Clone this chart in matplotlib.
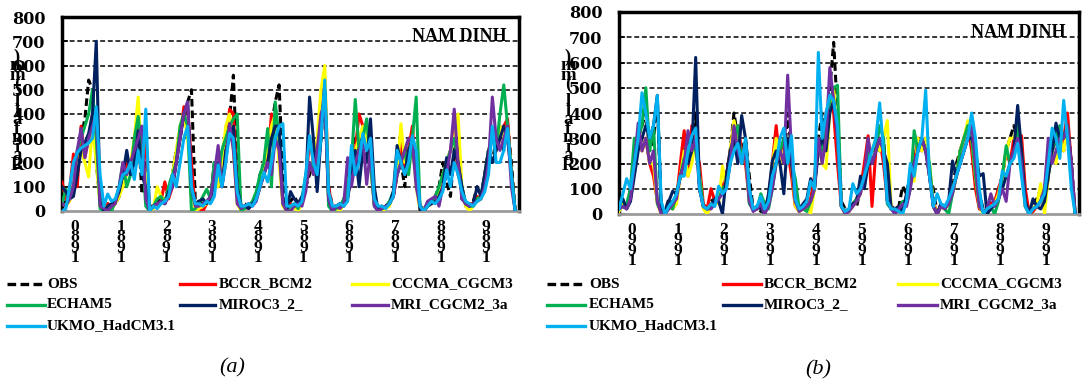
import numpy as np
import matplotlib.pyplot as plt
from matplotlib.lines import Line2D

series_names = ['OBS', 'BCCR_BCM2', 'CCCMA_CGCM3', 'ECHAM5',
                'MIROC3_2_', 'MRI_CGCM2_3a', 'UKMO_HadCM3.1']
series_colors = ['black', '#FF0000', '#FFFF00', '#00B050',
                 '#002060', '#7030A0', '#00B0F0']
years_a = ['1980', '1981', '1982', '1983', '1984',
           '1985', '1986', '1987', '1988', '1989']
years_b = ['1990', '1991', '1992', '1993', '1994',
           '1995', '1996', '1997', '1998', '1999']
station = 'NAM DINH'
y_label = 'Rainfall (mm)'

# monthly rainfall, 1980-1989 (one row per year)
obs_a = [
    90, 30, 50, 80, 150, 300, 380, 540, 500, 200, 40, 10,
    30, 20, 30, 60, 130, 220, 180, 250, 340, 70, 200, 20,
    20, 30, 60, 40, 100, 150, 250, 300, 380, 450, 500, 40,
    40, 30, 40, 50, 200, 100, 250, 300, 380, 560, 150, 20,
    30, 20, 30, 60, 150, 200, 250, 350, 450, 520, 150, 20,
    40, 60, 30, 50, 100, 150, 200, 150, 300, 500, 100, 20,
    20, 30, 40, 150, 200, 300, 250, 350, 200, 300, 40, 10,
    20, 10, 30, 60, 150, 200, 100, 300, 250, 150, 20, 10,
    30, 40, 60, 100, 200, 120, 60, 250, 300, 50, 30, 20,
    40, 100, 60, 150, 250, 200, 300, 350, 250, 360, 200, 0]
bccr_a = [
    120, 50, 90, 235, 100, 350, 220, 300, 400, 300, 30, 0,
    30, 10, 40, 80, 150, 200, 150, 300, 400, 150, 300, 10,
    20, 30, 40, 120, 50, 100, 200, 300, 430, 420, 200, 0,
    10, 0, 30, 50, 150, 200, 100, 250, 420, 400, 100, 0,
    20, 10, 30, 50, 100, 150, 200, 400, 350, 300, 30, 0,
    30, 20, 10, 40, 100, 300, 200, 150, 350, 550, 100, 10,
    20, 10, 40, 60, 150, 250, 400, 350, 300, 200, 30, 10,
    10, 20, 30, 60, 150, 300, 150, 250, 350, 150, 20, 0,
    20, 30, 50, 80, 150, 200, 250, 350, 150, 100, 20, 30,
    30, 60, 50, 150, 250, 300, 250, 300, 350, 380, 150, 0]
cccma_a = [
    30, 20, 40, 100, 180, 250, 200, 140, 350, 200, 20, 0,
    20, 10, 30, 60, 100, 150, 200, 300, 470, 200, 150, 0,
    10, 100, 60, 40, 80, 150, 250, 350, 400, 300, 100, 0,
    10, 20, 30, 60, 150, 100, 200, 350, 400, 250, 30, 0,
    10, 20, 30, 50, 100, 200, 250, 350, 400, 200, 20, 0,
    20, 10, 0, 30, 100, 200, 150, 300, 500, 600, 50, 0,
    10, 0, 30, 100, 200, 250, 300, 350, 300, 200, 30, 0,
    0, 10, 20, 80, 150, 360, 200, 250, 300, 100, 0, 10,
    20, 30, 50, 80, 150, 200, 250, 300, 400, 100, 20, 0,
    20, 40, 50, 100, 250, 300, 250, 350, 300, 350, 150, 0]
echam_a = [
    30, 90, 60, 100, 250, 300, 350, 400, 500, 300, 10, 0,
    10, 0, 40, 100, 200, 100, 150, 300, 390, 250, 20, 0,
    20, 50, 60, 30, 100, 150, 200, 350, 400, 350, 0, 10,
    30, 60, 90, 50, 200, 150, 250, 300, 350, 380, 400, 0,
    10, 20, 40, 80, 150, 200, 340, 100, 450, 300, 30, 0,
    20, 30, 10, 50, 150, 200, 180, 250, 350, 500, 20, 0,
    10, 20, 50, 100, 200, 460, 250, 300, 380, 200, 20, 0,
    10, 20, 40, 80, 150, 200, 250, 150, 300, 470, 20, 0,
    20, 40, 60, 100, 150, 200, 250, 300, 200, 100, 30, 20,
    20, 50, 60, 150, 250, 300, 250, 400, 520, 350, 150, 0]
miroc_a = [
    100, 80, 50, 60, 150, 250, 280, 320, 400, 700, 40, 0,
    20, 30, 40, 80, 150, 250, 150, 200, 330, 150, 100, 0,
    20, 30, 40, 30, 80, 100, 200, 300, 400, 450, 100, 30,
    40, 50, 30, 60, 100, 200, 100, 250, 300, 350, 100, 20,
    20, 10, 30, 50, 100, 150, 200, 300, 350, 350, 50, 0,
    80, 50, 30, 60, 100, 470, 300, 80, 300, 500, 50, 0,
    20, 30, 20, 50, 150, 250, 100, 250, 200, 380, 100, 0,
    10, 20, 30, 80, 270, 200, 150, 250, 300, 200, 0, 0,
    20, 30, 40, 60, 100, 220, 150, 250, 200, 100, 30, 20,
    30, 100, 60, 150, 250, 200, 250, 300, 350, 300, 150, 0]
mri_a = [
    30, 20, 50, 100, 250, 340, 220, 300, 350, 400, 20, 10,
    0, 20, 30, 100, 200, 150, 200, 250, 300, 350, 50, 0,
    20, 30, 40, 30, 60, 100, 200, 300, 400, 450, 100, 20,
    20, 30, 40, 60, 150, 270, 100, 200, 360, 250, 30, 10,
    20, 30, 20, 40, 100, 150, 200, 150, 300, 250, 30, 0,
    0, 20, 30, 20, 80, 200, 150, 250, 400, 450, 50, 0,
    20, 10, 30, 220, 100, 200, 250, 300, 110, 250, 20, 0,
    10, 20, 30, 60, 150, 200, 250, 300, 280, 100, 20, 0,
    40, 50, 60, 20, 100, 150, 250, 420, 200, 50, 30, 20,
    30, 40, 50, 100, 200, 470, 300, 250, 300, 350, 100, 0]
ukmo_a = [
    0, 10, 100, 200, 240, 260, 270, 280, 300, 430, 150, 20,
    70, 40, 50, 100, 150, 160, 200, 130, 250, 150, 420, 0,
    20, 10, 30, 40, 60, 150, 100, 200, 300, 350, 100, 30,
    30, 20, 40, 30, 60, 190, 100, 200, 320, 300, 80, 20,
    20, 30, 20, 50, 100, 160, 120, 200, 300, 350, 360, 20,
    20, 30, 20, 40, 150, 310, 200, 150, 300, 540, 80, 20,
    20, 30, 20, 40, 270, 150, 200, 320, 250, 300, 50, 20,
    20, 10, 30, 60, 250, 200, 150, 200, 310, 250, 20, 0,
    20, 40, 30, 50, 80, 170, 100, 200, 150, 80, 40, 30,
    20, 40, 50, 80, 150, 350, 200, 200, 250, 340, 150, 0]

# monthly rainfall, 1990-1999
obs_b = [
    40, 30, 20, 100, 250, 300, 350, 400, 250, 300, 450, 30,
    10, 60, 40, 80, 150, 250, 300, 250, 400, 100, 30, 20,
    60, 40, 80, 100, 150, 250, 400, 300, 250, 300, 150, 20,
    30, 10, 20, 50, 150, 300, 250, 200, 400, 250, 80, 20,
    30, 40, 60, 100, 300, 400, 250, 500, 680, 400, 50, 20,
    20, 40, 30, 100, 120, 250, 200, 300, 250, 300, 100, 30,
    20, 30, 110, 80, 150, 200, 300, 250, 300, 150, 100, 0,
    40, 20, 60, 100, 200, 250, 300, 350, 300, 150, 80, 20,
    30, 50, 40, 100, 150, 250, 300, 350, 300, 200, 30, 20,
    40, 60, 100, 30, 150, 250, 300, 300, 250, 350, 200, 0]
bccr_b = [
    20, 40, 30, 60, 200, 300, 250, 300, 200, 150, 50, 10,
    10, 30, 20, 60, 200, 330, 150, 350, 250, 200, 40, 20,
    100, 50, 80, 100, 150, 250, 300, 350, 250, 200, 50, 20,
    20, 40, 30, 60, 200, 350, 200, 300, 250, 150, 30, 10,
    20, 30, 60, 150, 300, 250, 400, 450, 400, 200, 30, 10,
    10, 40, 60, 100, 200, 310, 30, 250, 300, 200, 50, 20,
    20, 30, 20, 50, 150, 200, 300, 250, 300, 150, 50, 0,
    30, 20, 50, 100, 150, 250, 300, 350, 250, 100, 20, 10,
    20, 40, 50, 100, 150, 250, 200, 300, 280, 310, 100, 0,
    10, 30, 50, 100, 200, 250, 300, 250, 300, 400, 200, 0]
cccma_b = [
    10, 40, 20, 80, 200, 330, 250, 300, 200, 200, 40, 0,
    0, 30, 20, 40, 150, 250, 150, 200, 300, 150, 20, 0,
    30, 50, 40, 190, 100, 250, 370, 300, 200, 250, 50, 20,
    20, 30, 20, 50, 200, 300, 200, 250, 300, 200, 30, 10,
    20, 30, 0, 100, 300, 200, 180, 400, 500, 300, 30, 0,
    10, 30, 50, 80, 150, 200, 250, 300, 250, 300, 370, 20,
    10, 20, 30, 50, 150, 130, 300, 250, 300, 200, 40, 0,
    30, 20, 40, 80, 150, 250, 300, 370, 300, 150, 30, 0,
    20, 30, 40, 80, 150, 250, 300, 300, 350, 200, 30, 0,
    20, 40, 120, 0, 150, 250, 200, 300, 250, 350, 150, 0]
echam_b = [
    20, 30, 40, 100, 300, 300, 350, 500, 250, 350, 40, 10,
    10, 30, 20, 80, 150, 220, 200, 300, 250, 150, 30, 20,
    30, 50, 60, 100, 120, 200, 300, 350, 200, 250, 40, 20,
    20, 80, 40, 20, 100, 200, 250, 300, 250, 200, 140, 20,
    20, 10, 50, 100, 300, 250, 350, 450, 500, 510, 30, 10,
    20, 40, 60, 100, 150, 250, 200, 250, 350, 300, 40, 20,
    10, 20, 50, 40, 100, 330, 250, 300, 250, 200, 30, 0,
    30, 20, 0, 80, 150, 250, 300, 350, 300, 150, 30, 10,
    20, 30, 0, 50, 150, 270, 200, 250, 350, 250, 30, 0,
    20, 30, 50, 100, 200, 250, 300, 350, 300, 350, 150, 0]
miroc_b = [
    30, 60, 20, 50, 150, 250, 300, 350, 300, 350, 470, 20,
    10, 50, 90, 80, 150, 200, 200, 250, 620, 100, 30, 20,
    30, 60, 50, 0, 150, 250, 300, 200, 390, 300, 100, 20,
    30, 20, 0, 80, 210, 250, 200, 80, 300, 200, 50, 20,
    40, 60, 140, 100, 250, 300, 250, 400, 450, 300, 30, 10,
    20, 40, 50, 150, 100, 200, 200, 250, 300, 250, 200, 20,
    20, 30, 10, 80, 150, 200, 250, 300, 250, 150, 30, 0,
    40, 30, 50, 210, 150, 200, 250, 300, 300, 250, 150, 160,
    0, 20, 40, 60, 100, 150, 200, 250, 430, 250, 50, 0,
    60, 30, 20, 50, 150, 250, 360, 300, 300, 350, 200, 0]
mri_b = [
    20, 30, 20, 60, 200, 360, 250, 300, 200, 250, 50, 0,
    0, 20, 40, 60, 150, 200, 330, 250, 300, 100, 30, 20,
    20, 40, 60, 80, 100, 200, 350, 250, 200, 250, 50, 10,
    20, 40, 0, 30, 100, 200, 250, 200, 550, 250, 50, 10,
    20, 30, 50, 100, 300, 200, 300, 580, 450, 300, 30, 0,
    10, 30, 50, 80, 150, 300, 200, 250, 300, 250, 50, 20,
    0, 20, 40, 30, 100, 200, 250, 300, 250, 150, 30, 0,
    30, 20, 40, 80, 150, 200, 250, 300, 350, 200, 30, 10,
    20, 80, 30, 60, 100, 50, 200, 250, 300, 200, 30, 0,
    20, 30, 50, 100, 300, 200, 250, 300, 300, 350, 200, 0]
ukmo_b = [
    20, 80, 140, 100, 200, 300, 480, 400, 300, 350, 470, 50,
    0, 30, 50, 80, 150, 150, 250, 310, 340, 100, 30, 20,
    40, 30, 110, 80, 100, 200, 250, 280, 200, 300, 100, 20,
    30, 70, 20, 50, 150, 200, 300, 340, 200, 310, 60, 20,
    30, 50, 130, 100, 640, 300, 400, 470, 450, 350, 30, 10,
    20, 120, 80, 100, 150, 200, 250, 300, 440, 250, 50, 20,
    20, 10, 0, 50, 200, 150, 250, 300, 490, 150, 30, 80,
    40, 30, 60, 100, 150, 200, 250, 300, 400, 300, 100, 0,
    20, 30, 40, 60, 170, 150, 200, 220, 280, 150, 30, 0,
    20, 30, 50, 80, 200, 340, 300, 220, 450, 300, 100, 0]

panel_a = [obs_a, bccr_a, cccma_a, echam_a, miroc_a, mri_a, ukmo_a]
panel_b = [obs_b, bccr_b, cccma_b, echam_b, miroc_b, mri_b, ukmo_b]

SERIF = 'Liberation Serif'
W, H = 1089, 385

fig = plt.figure(figsize=(W / 100, H / 100), dpi=100)


def fx(px):
    return px / W


def fy(py):
    return 1 - py / H


def draw_panel(box, data, years, ylab_x, legend_x, caption, cap_xy):
    left, top, right, bottom = box
    ax = fig.add_axes([fx(left), fy(bottom), fx(right - left), fy(top) - fy(bottom)])
    months = np.arange(len(data[0]))
    for i, vals in enumerate(data):
        if i == 0:
            ax.plot(months, vals, color='black', lw=2.2, ls=(0, (2.5, 1.3)), zorder=2)
        else:
            ax.plot(months, vals, color=series_colors[i], lw=2.2, zorder=2 + i)
    ax.set_xlim(0, 120)
    ax.set_ylim(0, 800)
    ax.set_yticks(np.arange(0, 801, 100))
    ax.set_xticks([])
    for g in range(100, 800, 100):
        ax.axhline(g, color='black', lw=1.1, ls=(0, (3.2, 1.8)), zorder=1)
    for name in ['top', 'left', 'right']:
        ax.spines[name].set_linewidth(2.5)
    ax.spines['bottom'].set_color('#9a9a9a')
    ax.spines['bottom'].set_linewidth(2)
    ax.tick_params(axis='y', direction='in', length=4, width=1.2, pad=12,
                   labelsize=11.5)
    for t in ax.get_yticklabels():
        t.set_fontfamily('DejaVu Serif')
        t.set_fontweight('bold')

    # stacked year labels
    for k, yr in enumerate(years):
        for j, ch in enumerate(reversed(yr)):
            ax.annotate(ch, xy=(12 * k + 3.4, 0), xycoords=('data', 'axes fraction'),
                        xytext=(0, -11.5 - j * 7.4), textcoords='offset points',
                        ha='center', va='center', fontsize=12.5, fontweight='bold',
                        family=SERIF, annotation_clip=False)

    ax.text(0.972, 0.875, station, transform=ax.transAxes, ha='right',
            va='baseline', fontsize=13, fontweight='bold', family=SERIF)

    # stacked y label
    chars = list(reversed(y_label))
    for j, ch in enumerate(chars):
        fig.text(fx(ylab_x), fy(57 + j * 9.0), ch, ha='center', va='center',
                 fontsize=13.5, fontweight='bold', family=SERIF)

    # legend
    rows = [284, 305, 326]
    for i, name in enumerate(series_names):
        col, row = i % 3, i // 3
        hx0, hx1, tx = legend_x[col]
        y = fy(rows[row])
        if i == 0:
            ln = Line2D([fx(hx0), fx(hx1)], [y, y], transform=fig.transFigure,
                        color='black', lw=2.4, ls=(0, (2.6, 1.3)))
        else:
            ln = Line2D([fx(hx0), fx(hx1)], [y, y], transform=fig.transFigure,
                        color=series_colors[i], lw=2.4)
        fig.add_artist(ln)
        fig.text(fx(tx), y, name, ha='left', va='center', fontsize=11,
                 fontweight='bold', family=SERIF)

    fig.text(fx(cap_xy[0]), fy(cap_xy[1]), caption, ha='center', va='center',
             fontsize=16, style='italic', family=SERIF)
    return ax


draw_panel((62, 17, 519, 211), panel_a, years_a, 17,
           [(7, 45, 47), (180, 215, 219), (352, 388, 391)], '(a)', (232, 368))
draw_panel((619, 12, 1079, 214), panel_b, years_b, 568,
           [(547, 585, 589), (723, 761, 764), (898, 937, 940)], '(b)', (818, 370))

fig.savefig('out.png', dpi=100)
